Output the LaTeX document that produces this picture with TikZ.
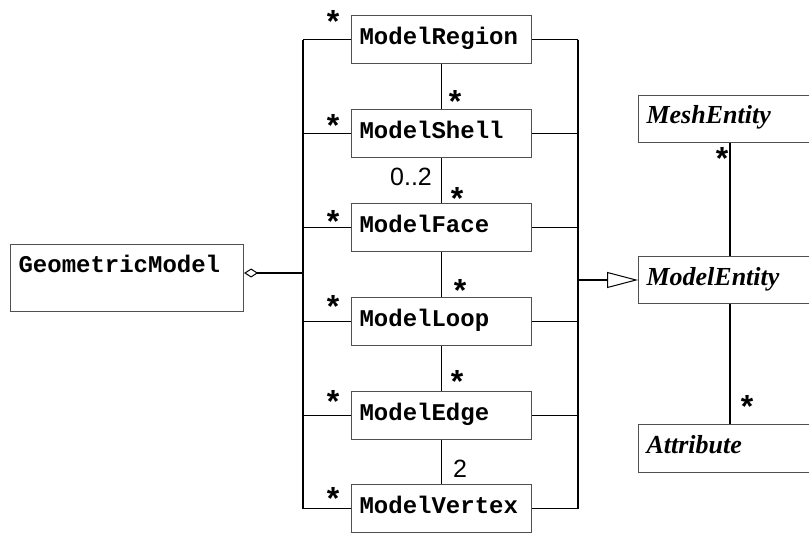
\documentclass[tikz,border=0pt]{standalone}
\usepackage{fontspec}
\setmainfont{Liberation Serif}
\setsansfont{Liberation Sans}
\setmonofont{Liberation Mono}
\usetikzlibrary{arrows.meta}
\definecolor{boxgray}{RGB}{80,80,80}
\tikzset{
  cls/.style={draw=boxgray, line width=1.1pt, fill=white, anchor=north west,
    inner xsep=8pt, inner ysep=0pt, align=left,
    font=\ttfamily\bfseries\fontsize{24}{28}\selectfont},
  midcls/.style={cls, text width=164pt, text height=29pt, text depth=19pt},
  abscls/.style={cls, text width=164pt, text height=28pt, text depth=19pt,
    font=\rmfamily\bfseries\itshape\fontsize{26}{30}\selectfont},
  conn/.style={line width=1.8pt, black},
  mult/.style={anchor=base, inner sep=0pt, text height=23pt, text depth=-14pt,
    font=\sffamily\bfseries\fontsize{32}{34}\selectfont},
  num/.style={anchor=base, inner sep=0pt, font=\sffamily\fontsize{25}{28}\selectfont}
}
\begin{document}
\begin{tikzpicture}[x=1pt, y=-1pt]
\useasboundingbox (0,0) rectangle (809,533);
\clip (0,0) rectangle (809,533);
% boxes
\node[cls, text width=217pt, text height=28pt, text depth=39pt, inner xsep=8pt] (geo) at (10,244) {GeometricModel};
\node[midcls] (region) at (351,15) {ModelRegion};
\node[midcls] (shell) at (351,109) {ModelShell};
\node[midcls] (face) at (351,203) {ModelFace};
\node[midcls] (loop) at (351,297) {ModelLoop};
\node[midcls] (edge) at (351,391) {ModelEdge};
\node[midcls] (vertex) at (351,484) {ModelVertex};
\node[abscls] (mesh) at (638,95) {MeshEntity};
\node[abscls, text height=29pt, text depth=18pt] (ment) at (638,256) {ModelEntity};
\node[abscls, text height=29pt] (attr) at (638,424) {Attribute};
% bus coordinates
\coordinate (bl) at (303,0);
\coordinate (br) at (578,0);
\coordinate (gj) at (303,273);
\coordinate (rj) at (578,280);
\coordinate (vx) at (730,0);
% buses
\draw[conn] (region.west -| bl) -- (vertex.west -| bl);
\draw[conn] (region.east -| br) -- (vertex.east -| br);
\foreach \b in {region,shell,face,loop,edge,vertex}{
  \draw[conn] (\b.west) -- (\b.west -| bl);
  \draw[conn] (\b.east) -- (\b.east -| br);
}
% chain
\draw[conn] (region.south) -- (shell.north);
\draw[conn] (shell.south) -- (face.north);
\draw[conn] (face.south) -- (loop.north);
\draw[conn] (loop.south) -- (edge.north);
\draw[conn] (edge.south) -- (vertex.north);
% aggregation
\draw[conn, {Diamond[open, length=14pt, width=9pt, line width=1pt]}-] (geo.east |- gj) -- (gj);
% generalization
\draw[conn, -{Triangle[open, length=31pt, width=16pt, line width=1pt]}] (rj) -- (rj -| ment.west);
% associations on right
\draw[conn] (mesh.south -| vx) -- (ment.north -| vx);
\draw[conn] (ment.south -| vx) -- (attr.north -| vx);
% multiplicities
\node[mult] (sR) at (333,32) {*};
\node[mult] (sS) at (333,136) {*};
\node[mult] (sS2) at (455,112) {*};
\node[mult] (sF) at (333,232) {*};
\node[mult] (sF2) at (457,209) {*};
\node[mult] (sL) at (333,317) {*};
\node[mult] (sL2) at (460,301) {*};
\node[mult] (sE) at (333,412) {*};
\node[mult] (sE2) at (457,392) {*};
\node[mult] (sV) at (333,509) {*};
\node[mult] (sM) at (722,169) {*};
\node[mult] (sA) at (747,417) {*};
\node[num] (n02) at (411,185) {0..2};
\node[num] (n2) at (460,477) {2};
\end{tikzpicture}
\end{document}
